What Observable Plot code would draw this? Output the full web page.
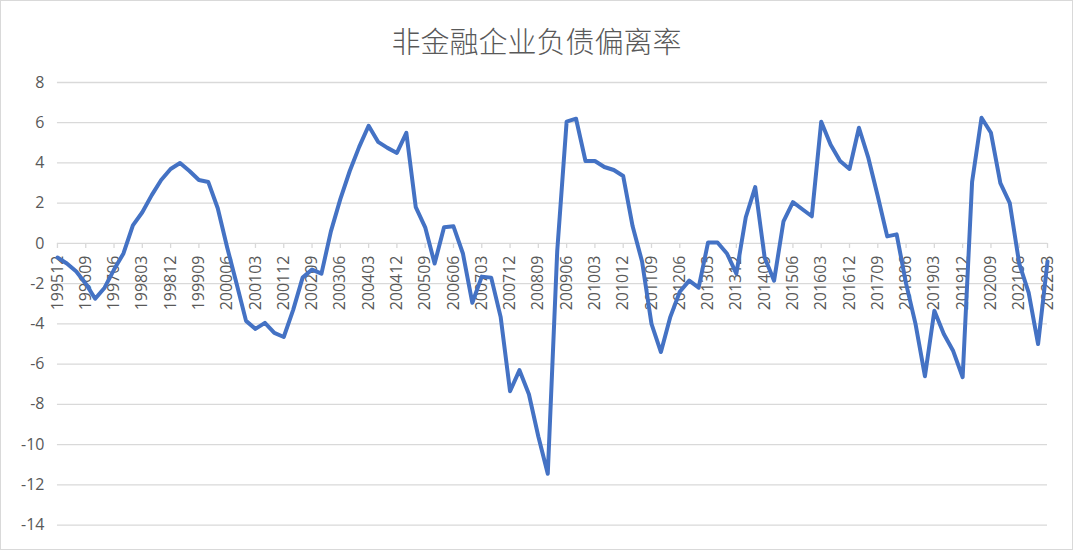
<!DOCTYPE html>
<html><head><meta charset="utf-8">
<script src="https://cdn.jsdelivr.net/npm/d3@7"></script>
<script src="https://cdn.jsdelivr.net/npm/@observablehq/plot@0.6"></script>
<style>
body{margin:0;background:#fff;}
#chart{position:relative;width:1073px;height:550px;box-sizing:border-box;border:1px solid #d9d9d9;background:#fff;overflow:hidden;}
#title{position:absolute;left:0;top:24px;width:100%;text-align:center;font-family:"Noto Sans CJK SC",sans-serif;font-weight:300;font-size:29px;line-height:31px;color:#595959;}
#plot{position:absolute;left:-1px;top:69px;}
#plot svg text{font-family:"Open Sans",sans-serif;font-size:16px !important;}
</style></head><body>
<div id="chart"><div id="title">非金融企业负债偏离率</div><div id="plot"></div></div>
<script>
const title = "非金融企业负债偏离率";
const quarters = [
"199512",
"199603","199606","199609","199612","199703","199706","199709","199712",
"199803","199806","199809","199812","199903","199906","199909","199912",
"200003","200006","200009","200012","200103","200106","200109","200112",
"200203","200206","200209","200212","200303","200306","200309","200312",
"200403","200406","200409","200412","200503","200506","200509","200512",
"200603","200606","200609","200612","200703","200706","200709","200712",
"200803","200806","200809","200812","200903","200906","200909","200912",
"201003","201006","201009","201012","201103","201106","201109","201112",
"201203","201206","201209","201212","201303","201306","201309","201312",
"201403","201406","201409","201412","201503","201506","201509","201512",
"201603","201606","201609","201612","201703","201706","201709","201712",
"201803","201806","201809","201812","201903","201906","201909","201912",
"202003","202006","202009","202012","202103","202106","202109","202112",
"202203"
];
const values = [
-0.7,
-1.0,-1.4,-2.0,-2.75,-2.2,-1.3,-0.5,0.9,
1.55,2.4,3.15,3.7,4.0,3.6,3.15,3.05,
1.75,-0.2,-2.0,-3.85,-4.25,-3.95,-4.45,-4.65,
-3.3,-1.7,-1.3,-1.5,0.6,2.2,3.6,4.8,
5.85,5.05,4.75,4.5,5.5,1.8,0.8,-1.0,
0.8,0.85,-0.5,-2.95,-1.65,-1.7,-3.65,-7.35,
-6.3,-7.5,-9.6,-11.45,-0.4,6.05,6.2,4.1,
4.1,3.8,3.65,3.35,0.85,-0.9,-4.0,-5.4,
-3.65,-2.4,-1.85,-2.2,0.05,0.05,-0.5,-1.5,
1.3,2.8,-0.7,-1.85,1.1,2.05,1.7,1.35,
6.05,4.9,4.1,3.7,5.75,4.25,2.35,0.35,
0.45,-2.0,-4.0,-6.6,-3.35,-4.5,-5.35,-6.65,
3.05,6.25,5.5,3.0,2.0,-1.0,-2.45,-5.0,
-0.9
];
const tickLabels = [
"199512","199609","199706","199803","199812","199909","200006","200103","200112",
"200209","200306","200403","200412","200509","200606","200703","200712","200809",
"200906","201003","201012","201109","201206","201303","201312","201409","201506",
"201603","201612","201709","201806","201903","201912","202009","202106","202203"
];
const yTicks = [-14,-12,-10,-8,-6,-4,-2,0,2,4,6,8];

const data = quarters.map((q, i) => ({q, v: values[i]}));

const chart = Plot.plot({
  width: 1073, height: 480,
  marginLeft: 57, marginRight: 25, marginTop: 12, marginBottom: 25,
  style: {fontFamily: '"Open Sans", sans-serif', fontSize: "16px", color: "#595959", background: "transparent"},
  x: {type: "point", domain: quarters, padding: 0, axis: null},
  y: {domain: [-14, 8]},
  marks: [
    Plot.ruleY(yTicks, {stroke: "#d9d9d9", strokeWidth: 1.3}),
    Plot.axisY(yTicks, {tickSize: 0, tickPadding: 13, fontSize: 16, fill: "#595959", tickFormat: d => String(d), label: null}),
    Plot.ruleX(tickLabels, {x: d => d, y1: 0, y2: -0.25, stroke: "#d9d9d9", strokeWidth: 1.3}),
    Plot.text(tickLabels, {x: d => d, y: -0.6, text: d => d, rotate: -90, textAnchor: "end", lineAnchor: "middle", fill: "#595959", fontSize: 16}),
    Plot.line(data, {x: "q", y: "v", stroke: "#4472C4", strokeWidth: 4, strokeLinejoin: "round", strokeLinecap: "round"})
  ]
});
document.getElementById("plot").appendChild(chart);
</script>
</body></html>
